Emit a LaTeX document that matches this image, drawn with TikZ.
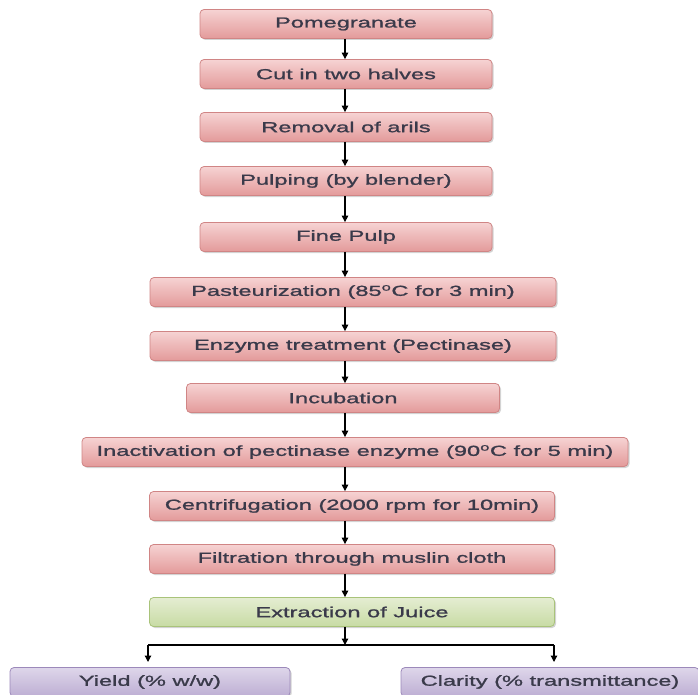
\documentclass[tikz,border=0pt]{standalone}
\usepackage{fontspec}
\setmainfont{Liberation Sans}[FakeStretch=1.63,FakeBold=1.3]
\usetikzlibrary{shadows,arrows.meta}
\definecolor{pinkT}{HTML}{F6D3D3}
\definecolor{pinkB}{HTML}{E39A9A}
\definecolor{pinkD}{HTML}{D08585}
\definecolor{greenT}{HTML}{E4EDD2}
\definecolor{greenB}{HTML}{C8DBA4}
\definecolor{greenD}{HTML}{A9C37A}
\definecolor{purpT}{HTML}{DED6EA}
\definecolor{purpB}{HTML}{BDAED3}
\definecolor{purpD}{HTML}{9C89BA}
\definecolor{txt}{HTML}{3A3A4A}
\tikzset{
  box/.style={draw=#1D, line width=0.8pt, rounded corners=4pt, inner sep=0pt,
    top color=#1T, bottom color=#1B, minimum height=29pt,
    drop shadow={shadow xshift=1.5pt, shadow yshift=-1.5pt, opacity=0.35},
    font=\fontsize{14.5}{16}\selectfont, text=txt},
  arr/.style={-{Triangle[length=6.5pt,width=6.5pt]}, line width=1.2pt, black},
  ln/.style={line width=1.2pt, black}
}
\begin{document}
\begin{tikzpicture}[x=1pt,y=-1pt]
\useasboundingbox (0,0) rectangle (698,695);
\begin{scope}
\clip (0,0) rectangle (698,695);
\node[box=pink, minimum width=292pt] (n1) at (346,24) {Pomegranate};
\node[box=pink, minimum width=292pt] (n2) at (346,74) {Cut in two halves};
\node[box=pink, minimum width=292pt] (n3) at (346,127) {Removal of arils};
\node[box=pink, minimum width=292pt] (n4) at (346,181) {Pulping (by blender)};
\node[box=pink, minimum width=292pt] (n5) at (346,237) {Fine Pulp};
\node[box=pink, minimum width=406pt] (n6) at (353,292) {Pasteurization (85\textsuperscript{o}C for 3 min)};
\node[box=pink, minimum width=406pt] (n7) at (353,346) {Enzyme treatment (Pectinase)};
\node[box=pink, minimum width=313pt] (n8) at (343,398) {Incubation};
\node[box=pink, minimum width=546pt] (n9) at (355,452) {Inactivation of pectinase enzyme (90\textsuperscript{o}C for 5 min)};
\node[box=pink, minimum width=405pt] (n10) at (352,506) {Centrifugation (2000 rpm for 10min)};
\node[box=pink, minimum width=405pt] (n11) at (352,559) {Filtration through muslin cloth};
\node[box=green, minimum width=405pt] (n12) at (352,612) {Extraction of Juice};
\node[box=purp, minimum width=280pt] (n13) at (150,682) {Yield (\% w/w)};
\node[box=purp, minimum width=298pt] (n14) at (550,682) {Clarity (\% transmittance)};
\end{scope}
\foreach \a/\b in {n1/n2,n2/n3,n3/n4,n4/n5,n5/n6,n6/n7,n7/n8,n8/n9,n9/n10,n10/n11,n11/n12}
  \draw[arr] (\a.south -| 345,0) -- (\b.north -| 345,0);
\coordinate (br) at (345,645);
\coordinate (bl) at (148,645);
\coordinate (brr) at (554,645);
\draw[arr] (n12.south -| br) -- (br);
\draw[ln] (bl) -- (brr);
\draw[arr] (bl) -- (148,662);
\draw[arr] (brr) -- (554,662);
\end{tikzpicture}
\end{document}
